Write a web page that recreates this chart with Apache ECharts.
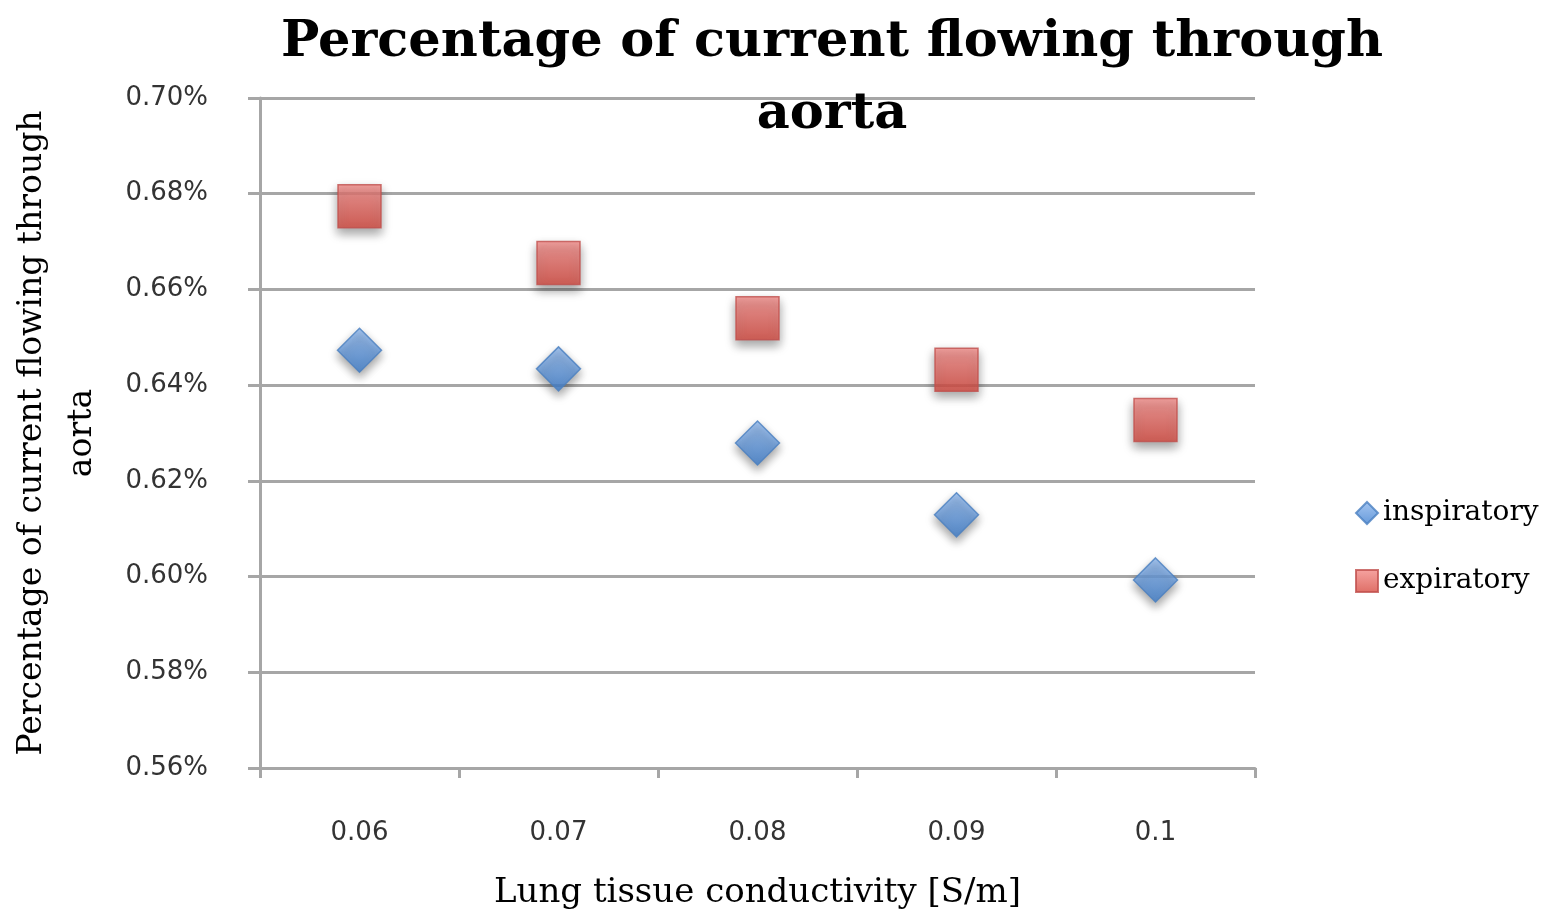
<!DOCTYPE html>
<html>
<head>
<meta charset="utf-8">
<script src="https://cdn.jsdelivr.net/npm/echarts@6/dist/echarts.min.js"></script>
<style>
  html, body { margin: 0; padding: 0; background: #fff; }
  #chart { width: 1550px; height: 914px; }
</style>
</head>
<body>
<div id="chart"></div>
<script>
// 数据
const conductivity = ['0.06', '0.07', '0.08', '0.09', '0.1']
const inspiratory = [0.6473, 0.6434, 0.6279, 0.6129, 0.5993]
const expiratory = [0.6774, 0.6655, 0.6540, 0.6432, 0.6327]

const chart = echarts.init(document.getElementById('chart'))

const serif = 'DejaVu Serif'
const sans = 'DejaVu Sans'

chart.setOption({
  animation: false,
  title: {
    text: 'Percentage of current flowing through\naorta',
    left: 827,
    textAlign: 'center',
    top: 2,
    textStyle: {
      fontFamily: serif,
      fontWeight: 'bold',
      fontSize: 51,
      lineHeight: 72,
      color: '#000'
    }
  },
  legend: {
    orient: 'vertical',
    left: 1350,
    top: 494,
    itemWidth: 22,
    itemHeight: 22,
    itemGap: 40,
    textStyle: {
      fontFamily: serif,
      fontSize: 28,
      color: '#000'
    },
    data: [
      { name: 'inspiratory', icon: 'diamond' },
      { name: 'expiratory', icon: 'rect' }
    ]
  },
  grid: {
    left: 260,
    right: 295,
    top: 98,
    bottom: 146,
    outerBoundsMode: 'none'
  },
  xAxis: {
    type: 'category',
    data: conductivity,
    boundaryGap: true,
    name: 'Lung tissue conductivity [S/m]',
    nameLocation: 'middle',
    nameGap: 108,
    nameTextStyle: {
      fontFamily: serif,
      fontSize: 34,
      color: '#000'
    },
    axisLine: { lineStyle: { color: '#a6a6a6', width: 3 } },
    axisTick: { show: true, length: 10, lineStyle: { color: '#a6a6a6', width: 3 } },
    axisLabel: {
      margin: 52,
      fontFamily: sans,
      fontSize: 26,
      color: '#333'
    }
  },
  yAxis: {
    type: 'value',
    min: 0.56,
    max: 0.70,
    interval: 0.02,
    name: 'Percentage of current flowing through\naorta',
    nameLocation: 'middle',
    nameGap: 153,
    nameRotate: 90,
    nameTextStyle: {
      fontFamily: serif,
      fontSize: 33,
      lineHeight: 50,
      color: '#000'
    },
    axisLine: { show: true, lineStyle: { color: '#a6a6a6', width: 3 } },
    axisTick: { show: true, length: 12, lineStyle: { color: '#a6a6a6', width: 3 } },
    splitLine: { lineStyle: { color: '#a6a6a6', width: 3 } },
    axisLabel: {
      margin: 52,
      fontFamily: sans,
      fontSize: 26,
      color: '#333',
      formatter: v => v.toFixed(2) + '%'
    }
  },
  series: [
    {
      name: 'inspiratory',
      type: 'scatter',
      symbol: 'diamond',
      symbolSize: 44,
      data: inspiratory,
      itemStyle: {
        color: new echarts.graphic.LinearGradient(0, 0, 0, 1, [
          { offset: 0, color: '#8fb8ee' },
          { offset: 1, color: '#3f80d0' }
        ]),
        borderColor: '#4a7fc0',
        borderWidth: 1.5,
        shadowBlur: 10,
        shadowOffsetY: 5,
        shadowColor: 'rgba(0,0,0,0.45)'
      }
    },
    {
      name: 'expiratory',
      type: 'scatter',
      symbol: 'rect',
      symbolSize: 43,
      data: expiratory,
      itemStyle: {
        color: new echarts.graphic.LinearGradient(0, 0, 0, 1, [
          { offset: 0, color: '#f48d8a' },
          { offset: 1, color: '#d6493f' }
        ]),
        borderColor: '#c0504d',
        borderWidth: 1.5,
        shadowBlur: 10,
        shadowOffsetY: 5,
        shadowColor: 'rgba(0,0,0,0.45)'
      }
    }
  ]
})
</script>
</body>
</html>
